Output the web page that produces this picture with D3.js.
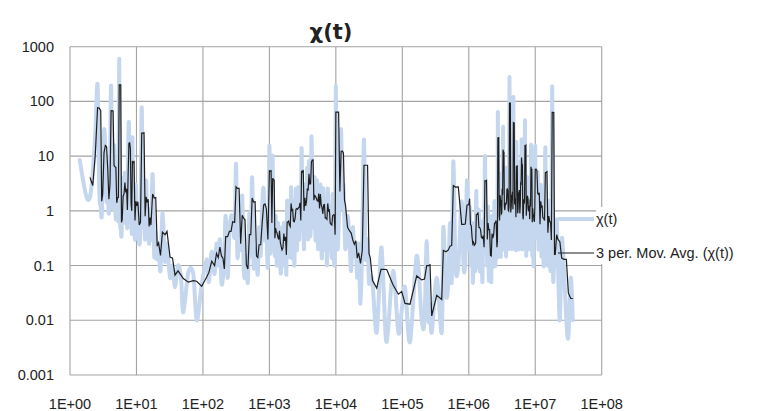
<html lang="en">
<head>
<meta charset="UTF-8">
<script src="https://d3js.org/d3.v7.min.js"></script>
<style>
  body { margin: 0; background: #fff; }
  text { font-family: "Liberation Sans", Arial, sans-serif; fill: #222; }
</style>
</head>
<body>
<div id="chart"></div>
<script>
// chart data: [t, chi(t)]
const chartTitle = "χ(t)";
const seriesName = "χ(t)";
const trendName = "3 per. Mov. Avg. (χ(t))";
const xTicks = [1e0, 1e1, 1e2, 1e3, 1e4, 1e5, 1e6, 1e7, 1e8];
const xTickLabels = ["1E+00", "1E+01", "1E+02", "1E+03", "1E+04", "1E+05", "1E+06", "1E+07", "1E+08"];
const yTicks = [0.001, 0.01, 0.1, 1, 10, 100, 1000];
const yTickLabels = ["0.001", "0.01", "0.1", "1", "10", "100", "1000"];
const movAvgPeriod = 3;

const chiSeries = [
  // 1 .. 25
  [1.4,8.5],[1.75,1.9],[2.0,1.8],[2.2,5],[2.4,25],[2.6,200],[2.75,2.5],[2.9,1.2],[3.0,0.8],[3.1,4],
  [3.25,30],[3.4,13],[3.55,1.5],[3.7,2.5],[3.85,0.9],[4.0,6],[4.15,195],[4.3,3],[4.45,1.2],[4.6,16],
  [4.75,2],[4.9,0.7],[5.05,1.5],[5.2,3],[5.35,0.8],[5.5,600],[5.65,1],[5.8,0.5],[5.95,0.35],[6.1,1.2],
  [6.3,4],[6.5,0.9],[6.7,5],[6.9,0.6],[7.1,2],[7.3,0.5],[7.5,12],[7.7,39],[7.9,1.5],[8.1,0.6],
  [8.3,2],[8.5,0.4],[8.7,22],[8.9,0.5],[9.2,1.2],[9.5,0.3],[9.8,3],[10.1,0.4],[10.5,1],[11,0.25],
  [11.5,0.6],[12,78],[12.5,0.6],[13,1.5],[13.5,0.3],[14,3.6],[14.5,0.4],[15,0.9],[15.5,0.25],[16,1.1],
  [16.5,0.3],[17.5,4.7],[18.5,0.15],[19.5,0.4],[20.5,0.13],[21.5,0.25],
  // 25 .. 150
  [23,0.08],[24.6,0.9],[26.9,0.12],[28.8,0.25],[32,0.06],[34.9,0.1],[38,0.04],[42.2,0.1],[46.8,0.06],
  [50.7,0.014],[60.3,0.075],[71.7,0.07],[80.6,0.01],[95.9,0.045],[114,0.13],[123,0.05],[135.6,0.18],
  // 150 .. 1000
  [150,0.07],[160,0.25],[170,0.1],[180,0.3],[190,0.05],[200,0.06],[210,0.15],[220,0.8],[235,0.06],[250,0.4],
  [265,0.8],[280,0.7],[300,0.35],[315,7.2],[330,0.15],[350,0.4],[370,0.2],[390,1.9],[410,0.1],[430,0.06],
  [450,0.15],[475,0.05],[500,0.9],[525,0.15],[550,4.1],[580,0.1],[610,0.2],[640,0.15],[670,0.07],[700,0.5],
  [740,0.15],[780,1.2],[820,2.5],[860,0.3],[900,0.5],[950,0.1],
  // 1000 .. 10000
  [1000,15.6],[1030,0.2],[1060,0.4],[1090,1.2],[1120,10],[1150,0.3],[1180,0.5],[1210,0.15],[1240,0.8],[1270,0.3],
  [1300,0.1],[1340,0.6],[1380,0.2],[1420,0.5],[1460,0.1],[1500,0.08],[1550,0.4],[1600,0.15],[1650,0.6],[1700,0.1],
  [1750,0.3],[1800,0.07],[1850,1.5],[1900,0.3],[1950,0.15],[2000,1.2],[2060,0.2],[2120,2.7],[2180,0.15],[2240,0.3],
  [2300,1.5],[2370,0.1],[2440,0.6],[2510,2.5],[2580,0.2],[2650,0.5],[2730,2.7],[2810,0.3],[2890,1.2],[2970,0.5],
  [3050,14],[3140,0.8],[3230,2],[3320,0.2],[3420,3],[3520,0.5],[3620,1],[3720,6],[3830,0.3],[3940,8],
  [4050,1],[4170,0.4],[4290,22],[4410,3],[4540,0.5],[4670,1.2],[4800,4],[4940,0.3],[5080,0.8],[5230,3.5],
  [5380,0.2],[5530,2.5],[5690,0.6],[5850,3],[6020,0.3],[6190,0.15],[6370,2.2],[6550,1.5],[6740,0.2],[6930,0.5],
  [7130,1.5],[7340,0.1],[7550,2.5],[7770,0.4],[7990,0.2],[8220,1.2],[8460,0.3],[8700,0.15],[8950,2],[9210,0.4],
  [9480,0.1],[9750,0.6],
  // 10000 .. 35000
  [1e4,190],[10500,0.3],[11000,0.5],[11500,6],[12000,30],[12500,1.2],[13000,3],[13500,0.5],[14000,0.2],[15000,0.8],
  [16000,0.3],[17000,0.08],[18000,0.5],[19000,0.15],[20000,0.2],[21000,0.06],[22000,0.25],[23500,0.02],[25000,0.3],[26500,20],
  [28000,0.15],[30000,0.3],[31500,0.05],[33000,0.06],
  // 35000 .. 1e6
  [35600,0.05],[41200,0.006],[47800,0.2],[51800,0.05],[58300,0.004],[72400,0.08],[87100,0.006],[97900,0.015],
  [109800,0.04],[130600,0.004],[164700,0.15],[195900,0.01],[215800,0.01],[232800,0.28],[247900,0.01],[261100,0.02],
  [276900,0.006],[329400,0.06],[391600,0.006],[414000,0.5],[454500,0.03],[492300,0.05],[522100,0.6],[553700,0.05],
  [585400,8],[631700,0.1],[696000,0.1],[783000,1.5],[834000,0.1],[887000,0.12],[941000,3.6],
  // 1e6 .. 2.7e6
  [1e6,0.2],[1.03e6,1.2],[1.06e6,0.3],[1.09e6,0.1],[1.12e6,0.6],[1.15e6,0.05],[1.18e6,0.15],[1.21e6,0.5],[1.24e6,0.08],[1.27e6,0.2],
  [1.3e6,2.3],[1.34e6,0.1],[1.38e6,0.4],[1.42e6,1],[1.46e6,0.08],[1.5e6,0.3],[1.55e6,0.6],[1.6e6,0.05],[1.65e6,0.4],[1.7e6,0.2],
  [1.75e6,10],[1.8e6,0.3],[1.85e6,0.5],[1.9e6,0.1],[1.95e6,1.2],[2e6,0.06],[2.06e6,0.1],[2.12e6,0.3],[2.18e6,0.05],[2.24e6,0.8],
  [2.3e6,0.1],[2.37e6,0.2],[2.44e6,1.5],[2.51e6,0.1],[2.58e6,0.4],[2.65e6,0.15],
  // 2.7e6 .. 1e7 (densest stretch)
  [2.70e6,0.3],[2.74e6,64],[2.78e6,0.8],[2.82e6,0.2],[2.87e6,1.5],[2.91e6,0.3],[2.95e6,4],[3.00e6,0.5],[3.04e6,0.15],[3.09e6,2],
  [3.14e6,0.6],[3.18e6,5],[3.23e6,0.3],[3.28e6,34],[3.33e6,1],[3.38e6,0.2],[3.43e6,2.5],[3.48e6,0.4],[3.53e6,0.8],[3.58e6,3],
  [3.64e6,0.15],[3.69e6,1.2],[3.75e6,6],[3.80e6,0.3],[3.86e6,0.8],[3.92e6,2],[3.98e6,0.2],[4.04e6,1.5],[4.10e6,277],[4.16e6,0.5],
  [4.22e6,2],[4.28e6,0.3],[4.35e6,1.2],[4.41e6,4],[4.48e6,0.2],[4.55e6,2.5],[4.62e6,0.5],[4.69e6,120],[4.76e6,0.8],[4.83e6,0.3],
  [4.90e6,3],[4.97e6,0.6],[5.05e6,1.5],[5.12e6,0.2],[5.20e6,18],[5.28e6,0.4],[5.36e6,2],[5.44e6,0.3],[5.52e6,1],[5.60e6,5],
  [5.69e6,0.2],[5.77e6,2],[5.86e6,0.5],[5.95e6,1.2],[6.04e6,8],[6.13e6,0.3],[6.22e6,20],[6.31e6,0.8],[6.41e6,0.2],[6.50e6,1.5],
  [6.60e6,0.4],[6.70e6,3],[6.80e6,0.6],[6.90e6,1],[7.01e6,45],[7.11e6,0.3],[7.22e6,2],[7.33e6,0.15],[7.44e6,1.2],[7.55e6,4],
  [7.66e6,0.3],[7.78e6,0.8],[7.89e6,2],[8.01e6,0.2],[8.13e6,1.5],[8.25e6,0.4],[8.38e6,3],[8.50e6,0.2],[8.63e6,16],[8.76e6,0.5],
  [8.89e6,1.2],[9.02e6,0.15],[9.16e6,2],[9.30e6,0.4],[9.44e6,0.1],[9.58e6,1.5],[9.72e6,0.3],[9.87e6,2],
  // 1e7 .. 4e7
  [1e7,15],[1.03e7,0.4],[1.06e7,0.8],[1.09e7,5],[1.12e7,0.2],[1.15e7,1.2],[1.18e7,0.3],[1.21e7,3],[1.24e7,0.15],[1.27e7,0.6],
  [1.3e7,1.5],[1.34e7,0.1],[1.38e7,0.4],[1.42e7,14.5],[1.46e7,0.3],[1.5e7,0.8],[1.55e7,0.1],[1.6e7,1.5],[1.65e7,0.3],[1.7e7,0.08],
  [1.75e7,0.5],[1.8e7,188],[1.85e7,0.1],[1.9e7,0.08],[1.95e7,0.3],[2e7,0.1],[2.1e7,0.7],[2.2e7,0.1],[2.35e7,0.01],[2.5e7,0.3],
  [2.71e7,0.08],[2.94e7,0.01],[3.15e7,0.005],[3.42e7,0.06],[3.67e7,0.01]
];

// trailing moving average, plotted at the last point of each window (as Excel does)
function movingAverage(data, n) {
  const out = [];
  for (let i = n - 1; i < data.length; i++) {
    let s = 0;
    for (let k = i - n + 1; k <= i; k++) s += data[k][1];
    out.push([data[i][0], s / n]);
  }
  return out;
}
const movAvg = movingAverage(chiSeries, movAvgPeriod);

const W = 759, H = 411;
const plotLeft = 70, plotRight = 601.7, plotTop = 46.7, plotBottom = 375;

const svg = d3.select("#chart").append("svg")
  .attr("width", W).attr("height", H);
svg.append("rect").attr("width", W).attr("height", H).attr("fill", "#fff");

const x = d3.scaleLog().domain([1, 1e8]).range([plotLeft, plotRight]);
const y = d3.scaleLog().domain([0.001, 1000]).range([plotBottom, plotTop]);

// gridlines (also form the plot frame)
const grid = svg.append("g").attr("stroke", "#a3a3a3").attr("stroke-width", 1.1);
grid.selectAll("line.v").data(xTicks).enter().append("line")
  .attr("x1", d => x(d)).attr("x2", d => x(d))
  .attr("y1", plotTop).attr("y2", plotBottom);
grid.selectAll("line.h").data(yTicks).enter().append("line")
  .attr("x1", plotLeft).attr("x2", plotRight)
  .attr("y1", d => y(d)).attr("y2", d => y(d));

// axis labels
svg.append("g").selectAll("text").data(yTicks).enter().append("text")
  .attr("x", 54).attr("y", d => y(d) + 5)
  .attr("text-anchor", "end").attr("font-size", 14.5)
  .text((d, i) => yTickLabels[i]);
svg.append("g").selectAll("text").data(xTicks).enter().append("text")
  .attr("x", d => x(d)).attr("y", 409)
  .attr("text-anchor", "middle").attr("font-size", 14.5)
  .text((d, i) => xTickLabels[i]);

svg.append("clipPath").attr("id", "plotclip").append("rect")
  .attr("x", plotLeft).attr("y", plotTop)
  .attr("width", plotRight - plotLeft).attr("height", plotBottom - plotTop);

const plot = svg.append("g").attr("clip-path", "url(#plotclip)");

// chi(t): smoothed thick light blue line
const smooth = d3.line().x(d => x(d[0])).y(d => y(d[1])).curve(d3.curveCardinal);
plot.append("path")
  .attr("d", smooth(chiSeries))
  .attr("fill", "none")
  .attr("stroke", "#c5d7ee")
  .attr("stroke-width", 4)
  .attr("stroke-linejoin", "round")
  .attr("stroke-linecap", "round");

// moving average trendline
const straight = d3.line().x(d => x(d[0])).y(d => y(d[1]));
plot.append("path")
  .attr("d", straight(movAvg))
  .attr("fill", "none")
  .attr("stroke", "#1e1e1e")
  .attr("stroke-width", 1.2);

// title
svg.append("text")
  .attr("x", 331).attr("y", 38.5)
  .attr("text-anchor", "middle")
  .style("font-family", "'DejaVu Sans', sans-serif")
  .attr("font-weight", "bold").attr("font-size", 21)
  .text(chartTitle);

// legend
const legend = svg.append("g");
legend.append("rect").attr("x", 596).attr("y", 207).attr("width", 163).attr("height", 57).attr("fill", "#fff");
legend.append("line").attr("x1", 558).attr("x2", 594).attr("y1", 219).attr("y2", 219)
  .attr("stroke", "#c5d7ee").attr("stroke-width", 4);
legend.append("text").attr("x", 596).attr("y", 224).attr("font-size", 14.5).text(seriesName);
legend.append("line").attr("x1", 558).attr("x2", 594).attr("y1", 253).attr("y2", 253)
  .attr("stroke", "#1e1e1e").attr("stroke-width", 1.2);
legend.append("text").attr("x", 596).attr("y", 258).attr("font-size", 14.5).text(trendName);
</script>
</body>
</html>
